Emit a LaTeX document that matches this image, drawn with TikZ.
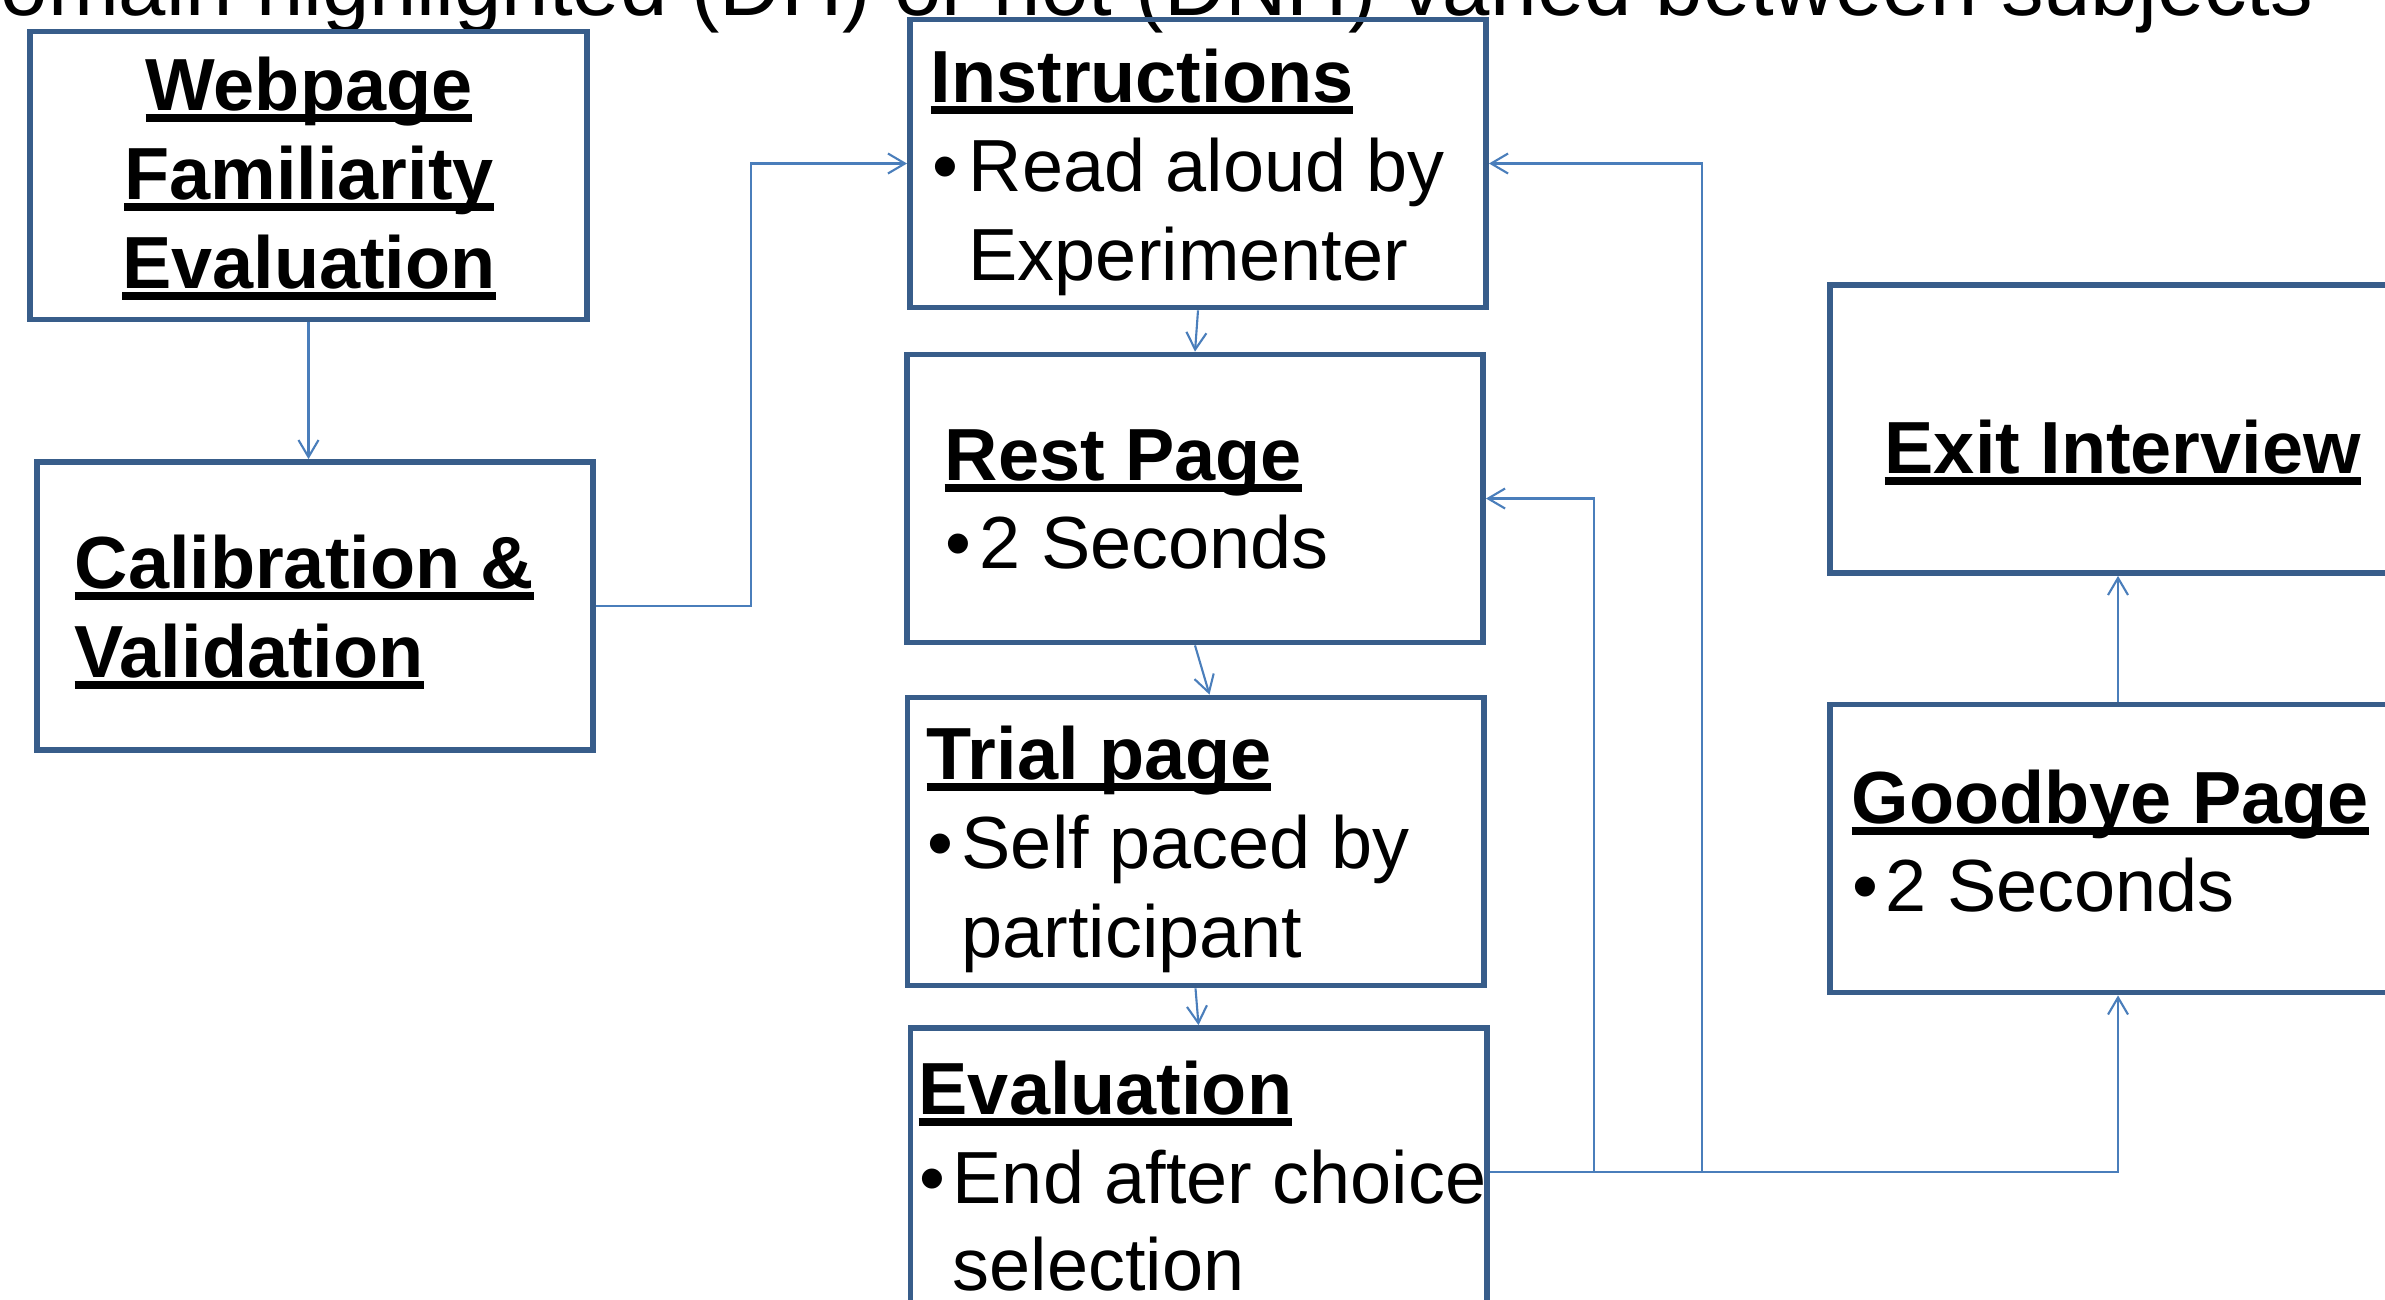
\documentclass[tikz,border=0pt]{standalone}
\usepackage{fontspec}
\setmainfont{Liberation Sans}
\usetikzlibrary{arrows.meta,positioning}
\definecolor{boxblue}{HTML}{385D8A}
\definecolor{linkblue}{HTML}{4A7EBB}
\newcommand{\headul}[1]{\setbox0=\hbox{#1}\rlap{\rule[-0.158em]{\wd0}{0.104em}}\box0}

\begin{document}
\begin{tikzpicture}[x=0.01cm,y=-0.01cm,
    stage/.style={draw=boxblue,line width=1.6pt,minimum width=5.76cm,minimum height=2.88cm,inner sep=0pt},
    head/.style={anchor=base west,inner sep=0pt,font=\fontsize{21}{25}\selectfont\bfseries},
    item/.style={anchor=base west,inner sep=0pt,font=\fontsize{21}{25}\selectfont},
    link/.style={draw=linkblue,line width=0.6pt,-{Straight Barb[length=0.17cm,width=0.2cm]}}]
\useasboundingbox (0,0) rectangle (2385,1299);
\clip (0,0) rectangle (2385,1299);
% caption line cut by the top edge
\node[item] (subj) at (0,15) {\fontsize{24.2}{28}\selectfont omain highlighted (DH) or not (DNH) varied between subjects};
% boxes
\node[stage,minimum width=5.57cm] (web) at (308.5,175.5) {};
\node[stage,minimum width=5.56cm] (calib) at (315,606) {};
\node[stage] (instr) at (1198,163.5) {};
\node[stage] (rest) at (1195,498.5) {};
\node[stage] (trial) at (1195.5,841.5) {};
\node[stage] (evalu) at (1198.5,1172) {};
\node[stage] (exitint) at (2118,429) {};
\node[stage] (bye) at (2118,848.5) {};
% texts
\node[head,anchor=base] (webA) at (309,110) {\headul{Webpage}};
\node[head,anchor=base] (webB) at (309,199) {\headul{Familiarity}};
\node[head,anchor=base] (webC) at (309,288) {\headul{Evaluation}};
\node[head] (calA) at (74,588) {\headul{Calibration \&}};
\node[head] (calB) at (74,677) {\headul{Validation}};
\node[head] (insA) at (930,102) {\headul{Instructions}};
\node[item] (insD) at (932,191) {\textbullet};
\node[item] (insB) at (968,191) {Read aloud by};
\node[item] (insC) at (968,280) {Experimenter};
\node[head] (resA) at (944,480) {\headul{Rest Page}};
\node[item] (resD) at (945,568) {\textbullet};
\node[item] (resB) at (979,568) {2 Seconds};
\node[head] (triA) at (926,779) {\headul{Trial page}};
\node[item] (triD) at (927,868) {\textbullet};
\node[item] (triB) at (961,868) {Self paced by};
\node[item] (triC) at (961,957) {participant};
\node[head] (evaA) at (918,1114) {\headul{Evaluation}};
\node[item] (evaD) at (919,1203) {\textbullet};
\node[item] (evaB) at (952,1203) {End after choice};
\node[item] (evaC) at (952,1290) {selection};
\node[head] (exiA) at (1884,473) {\headul{Exit Interview}};
\node[head] (byeA) at (1851,823) {\headul{Goodbye Page}};
\node[item] (byeD) at (1852,911) {\textbullet};
\node[item] (byeB) at (1885,911) {2 Seconds};
% connectors
\coordinate (jog) at (751,0);
\coordinate (backrest) at (1594,0);
\coordinate (backinstr) at (1702,0);
\draw[link] (web.south) -- (web.south |- calib.north);
\draw[link] (calib.east) -- (calib.east -| jog) |- (instr.west);
\draw[link] (instr.south) -- (rest.north);
\draw[link] (rest.south) -- ([xshift=0.14cm]trial.north);
\draw[link] (trial.south) -- (evalu.north);
\draw[link] (evalu.east) -| (bye.south);
\draw[link] (evalu.east -| backrest) |- (rest.east);
\draw[link] (evalu.east -| backinstr) |- (instr.east);
\draw[link] (bye.north) -- (exitint.south);
\end{tikzpicture}
\end{document}
